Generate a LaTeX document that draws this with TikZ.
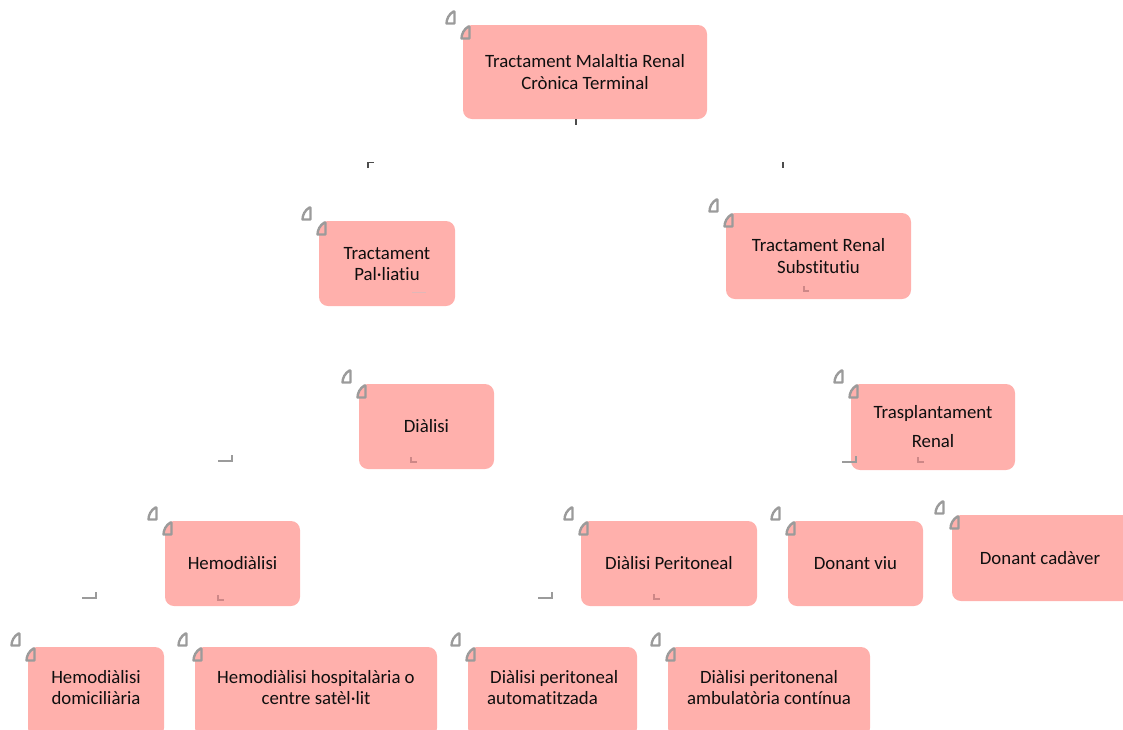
\documentclass[tikz,border=0pt]{standalone}
\usepackage{fontspec}
\setmainfont{Carlito}[Ligatures={NoCommon}]
\definecolor{boxpink}{RGB}{255,176,172}
\definecolor{glyphgray}{RGB}{155,155,155}
\definecolor{markpink}{RGB}{205,135,135}
\definecolor{txt}{RGB}{15,15,15}
\tikzset{
  box/.style={draw=none, fill=boxpink, rounded corners=9pt, inner sep=0pt},
  lbl/.style={text=txt, align=center, inner sep=0pt, font=\fontsize{18.8}{21.5}\selectfont},
  gmark/.style={draw=glyphgray, line width=2pt},
  pmark/.style={draw=markpink, line width=2pt},
  tick/.style={draw=black!70, line width=1.1pt},
  glyph/.pic={\draw[glyphgray, line width=2.4pt, line join=round]
      (7.5,0.5) .. controls (3,3) and (0.5,8) .. (0.5,12.5) -- (8.5,12.5) -- (8.5,0.5) -- cycle;}
}
\begin{document}
\begin{tikzpicture}[x=1pt,y=-1pt]
\useasboundingbox (0,0) rectangle (1123,729);
% boxes: L,T,W,H -> center
\newcommand{\mybox}[5]{%
  \node[box, minimum width=#4pt, minimum height=#5pt] (#1) at ({#2+#4/2},{#3+#5/2}) {};
  \pic at ({#2-2},{#3+1}) {glyph};
  \pic at ({#2-17},{#3-14}) {glyph};
}
\mybox{topb}{463}{25}{244}{94}
\mybox{palb}{319}{221}{136}{85}
\mybox{subb}{726}{213}{185}{86}
\mybox{diab}{359}{384}{135}{85}
\mybox{trasb}{851}{384}{164}{86}
\mybox{hemob}{165}{521}{135}{85}
\mybox{dpb}{581}{521}{176}{85}
\mybox{viub}{788}{521}{135}{85}
\mybox{cadb}{952}{515}{180}{86}
\mybox{hdb}{28}{647}{136}{90}
\mybox{hhb}{195}{647}{242}{90}
\mybox{dpab}{468}{647}{169}{90}
\mybox{dpcb}{668}{647}{202}{90}
% texts
\node[lbl] (top) at (585,72) {Tractament Malaltia Renal\\Crònica Terminal};
\node[lbl] (pal) at (387,264) {Tractament\\Pal·liatiu};
\node[lbl] (sub) at (818.5,256) {Tractament Renal\\Substitutiu};
\node[lbl] (dia) at (426.5,426) {Diàlisi};
\node[lbl] (tras) at (933,427) {Trasplantament\\[7.5pt]Renal};
\node[lbl] (hemo) at (232.5,563) {Hemodiàlisi};
\node[lbl] (dp) at (669,563) {Diàlisi Peritoneal};
\node[lbl] (viu) at (855.5,563) {Donant viu};
\node[lbl] (cad) at (1040,558) {Donant cadàver};
\node[lbl] (hd) at (96,687.5) {Hemodiàlisi\\domiciliària};
\node[lbl] (hh) at (316,687.5) {Hemodiàlisi hospitalària o\\centre satèl·lit};
\node[lbl, align=left, anchor=west] (dpa) at (487,687.5) {\hspace{3pt}Diàlisi peritoneal\\automatitzada};
\node[lbl] (dpc) at (769,687.5) {Diàlisi peritonenal\\ambulatòria contínua};
% connector fragments
\draw[tick] (topb.south) ++(-9,0) -- ++(0,6);
\draw[tick] (368,168) -- (368,162.5) -- (374,162.5);
\draw[tick] (783,162) -- (783,168);
\draw[draw=markpink!60, line width=1pt] (412,292) -- (426,292);
\draw[pmark] (803.5,286) -- (803.5,291) -- (809,291);
\draw[pmark] (411,457) -- (411,462) -- (417,462);
\draw[gmark] (218,461) -- (232,461) -- (232,455);
\draw[gmark] (842,462) -- (856,462) -- (856,456);
\draw[pmark] (918,457) -- (918,462) -- (924,462);
\draw[pmark] (218,595) -- (218,600) -- (224,600);
\draw[gmark] (82,598) -- (96,598) -- (96,592);
\draw[gmark] (538,598) -- (552,598) -- (552,592);
\draw[pmark] (654,594) -- (654,599) -- (660,599);
\end{tikzpicture}
\end{document}
